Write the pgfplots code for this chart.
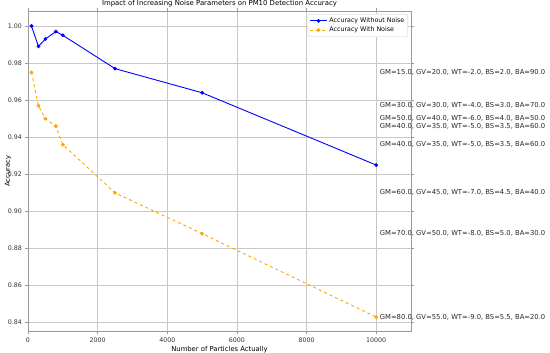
\documentclass[border=0pt]{standalone}
\usepackage{fontspec}
\setmainfont{DejaVu Sans}
\usepackage{pgfplots}
\pgfplotsset{compat=1.18}
\definecolor{mplorange}{RGB}{255,165,0}
\definecolor{gridgray}{RGB}{200,200,200}
\begin{document}
\begin{tikzpicture}
\useasboundingbox (0,0) rectangle (550pt,353pt);
\begin{axis}[
  at={(28pt,21.3pt)}, anchor=south west,
  scale only axis, width=383pt, height=320.7pt,
  xmin=0, xmax=11000, ymin=0.8351, ymax=1.0081,
  xtick={0,2000,4000,6000,8000,10000},
  ytick={0.84,0.86,0.88,0.90,0.92,0.94,0.96,0.98,1.00},
  scaled x ticks=false, scaled y ticks=false,
  xticklabel style={/pgf/number format/1000 sep={}},
  yticklabel style={/pgf/number format/fixed,/pgf/number format/fixed zerofill,/pgf/number format/precision=2},
  /pgf/number format/assume math mode=true,
  ticklabel style={font=\fontsize{6.3}{7.2}\selectfont, text=black!80},
  tick align=outside, major tick length=2.5pt,
  tick style={gray!80, line width=0.5pt},
  axis line style={gray!80, line width=0.6pt},
  grid=major, major grid style={gridgray, line width=0.5pt},
  title={Impact of Increasing Noise Parameters on PM10 Detection Accuracy},
  title style={font=\fontsize{6.9}{7.8}\selectfont, yshift=-5.5pt},
  xlabel={Number of Particles Actually},
  ylabel={Accuracy},
  label style={font=\fontsize{6.8}{7.8}\selectfont},
  xlabel style={yshift=3.5pt},
  ylabel style={at={(axis description cs:-0.0522,0.5)}, anchor=center},
  legend cell align=left,
  legend style={at={(1,1)}, xshift=-3pt, yshift=-3pt, anchor=north east,
    font=\fontsize{6.3}{7.2}\selectfont, draw=gray!40, rounded corners=1.5pt,
    inner sep=1.5pt, row sep=-1pt},
  clip=false,
]
\addplot[blue, line width=0.9pt, mark=*, mark size=1.4pt] coordinates {
(100,1.000) (300,0.989) (500,0.993) (800,0.997) (1000,0.995) (2500,0.977) (5000,0.964) (10000,0.925)};
\addlegendentry{Accuracy Without Noise}
\addplot[mplorange, dashed, line width=0.9pt, mark=*, mark size=1.4pt, mark options={solid}] coordinates {
(100,0.975) (300,0.957) (500,0.950) (800,0.946) (1000,0.936) (2500,0.910) (5000,0.888) (10000,0.843)};
\addlegendentry{Accuracy With Noise}
\begin{scope}[every node/.style={anchor=west, xshift=3.5pt, font=\fontsize{6.8}{7.7}\selectfont, text=black!85, inner sep=0pt}]
\node at (axis cs:10000,0.975) {GM=15.0, GV=20.0, WT=-2.0, BS=2.0, BA=90.0};
\node at (axis cs:10000,0.957) {GM=30.0, GV=30.0, WT=-4.0, BS=3.0, BA=70.0};
\node at (axis cs:10000,0.950) {GM=50.0, GV=40.0, WT=-6.0, BS=4.0, BA=50.0};
\node at (axis cs:10000,0.946) {GM=40.0, GV=35.0, WT=-5.0, BS=3.5, BA=60.0};
\node at (axis cs:10000,0.936) {GM=40.0, GV=35.0, WT=-5.0, BS=3.5, BA=60.0};
\node at (axis cs:10000,0.910) {GM=60.0, GV=45.0, WT=-7.0, BS=4.5, BA=40.0};
\node at (axis cs:10000,0.888) {GM=70.0, GV=50.0, WT=-8.0, BS=5.0, BA=30.0};
\node at (axis cs:10000,0.843) {GM=80.0, GV=55.0, WT=-9.0, BS=5.5, BA=20.0};
\end{scope}
\end{axis}
\end{tikzpicture}
\end{document}
